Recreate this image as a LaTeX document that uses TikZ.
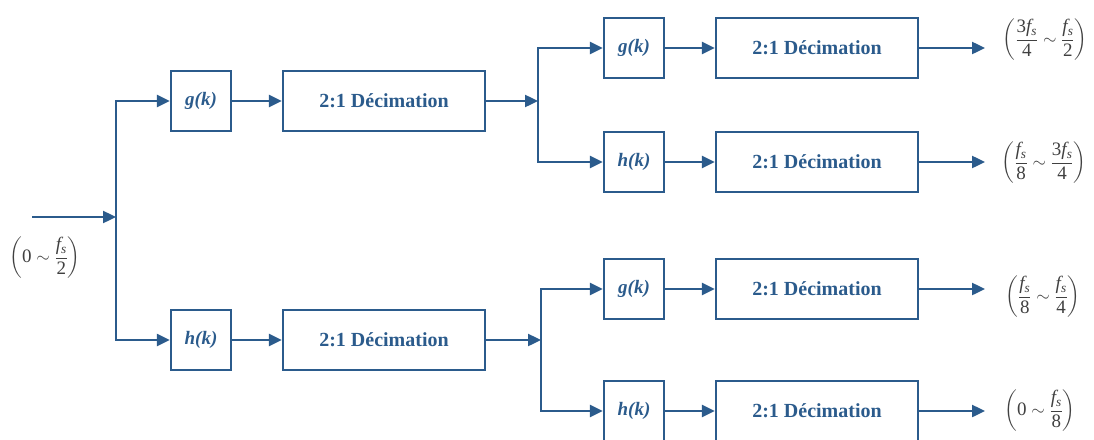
\documentclass[tikz,border=0pt]{standalone}
\usepackage{amsmath}
\usepackage{fontspec}
\setmainfont{Liberation Serif}
\usetikzlibrary{arrows.meta}

\newcommand{\fsamp}{\mathit{f}_{\mathit{s}}}
\newcommand{\dg}[1]{\mathrm{#1}}

\begin{document}
\begin{tikzpicture}[
  x=1pt,y=-1pt,
  link/.style={draw=bankBlue,line width=2.4pt,-{Triangle[length=13pt,width=12pt]}},
  filterbox/.style={rectangle,draw=bankBlue,line width=2.4pt,
                    minimum width=60pt,minimum height=60pt,inner sep=0pt,
                    text=bankBlue,font=\fontsize{19}{22}\selectfont\bfseries\itshape},
  decibox/.style={rectangle,draw=bankBlue,line width=2.4pt,
                  minimum width=202pt,minimum height=60pt,inner sep=0pt,
                  text=bankBlue,font=\fontsize{20}{24}\selectfont\bfseries},
  band/.style={text=black!75,inner sep=0pt,font=\fontsize{19}{23}\selectfont},
]
\definecolor{bankBlue}{HTML}{2B5B8C}
\useasboundingbox (0,0) rectangle (1094,439);

% First split of the input band.
\coordinate (in) at (32,217);
\coordinate (s1) at (116,217);
\node[band] (lin) at (45,258) {$\left(\dg{0}\sim\dfrac{\fsamp}{\dg{2}}\right)$};

\node[filterbox] (g1) at (201,101) {g(k)};
\node[decibox]   (d1) at (384,101) {2:1 Décimation};
\node[filterbox] (h1) at (201,340) {h(k)};
\node[decibox]   (d2) at (384,340) {2:1 Décimation};

% Second stage.
\coordinate (s2) at (538,101);
\coordinate (s3) at (541,340);
\foreach \n/\t/\y in {g2/g/48,h2/h/162,g3/g/289,h3/h/411}
  \node[filterbox] (\n) at (634,\y) {\t(k)};
\foreach \n/\y in {d3/48,d4/162,d5/289,d6/411}
  \node[decibox] (\n) at (817,\y) {2:1 Décimation};

% Output bands.
\foreach \n/\y in {o3/48,o4/162,o5/289,o6/411}
  \coordinate (\n) at (985,\y);
\node[band] (l3) at (1045,40)  {$\left(\dfrac{\dg{3}\fsamp}{\dg{4}}\sim\dfrac{\fsamp}{\dg{2}}\right)$};
\node[band] (l4) at (1044,163) {$\left(\dfrac{\fsamp}{\dg{8}}\sim\dfrac{\dg{3}\fsamp}{\dg{4}}\right)$};
\node[band] (l5) at (1043,297) {$\left(\dfrac{\fsamp}{\dg{8}}\sim\dfrac{\fsamp}{\dg{4}}\right)$};
\node[band] (l6) at (1040,411) {$\left(\dg{0}\sim\dfrac{\fsamp}{\dg{8}}\right)$};

\draw[link] (in) -- (s1);
\draw[link] (s1) |- (g1.west);
\draw[link] (s1) |- (h1.west);
\draw[link] (g1) -- (d1);
\draw[link] (h1) -- (d2);

\draw[link] (d1.east) -- (s2);
\draw[link] (s2) |- (g2.west);
\draw[link] (s2) |- (h2.west);
\draw[link] (d2.east) -- (s3);
\draw[link] (s3) |- (g3.west);
\draw[link] (s3) |- (h3.west);

\foreach \f/\d/\o in {g2/d3/o3,h2/d4/o4,g3/d5/o5,h3/d6/o6}{
  \draw[link] (\f) -- (\d);
  \draw[link] (\d) -- (\o);
}
\end{tikzpicture}
\end{document}
